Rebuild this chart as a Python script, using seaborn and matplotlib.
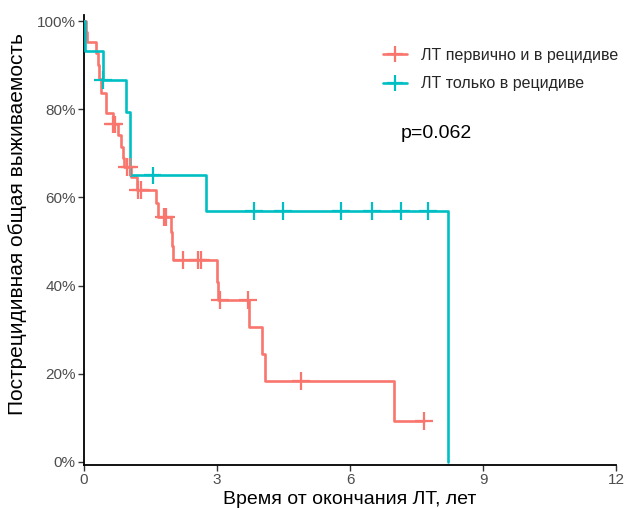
import numpy as np
import pandas as pd
import matplotlib
matplotlib.use('Agg')
import matplotlib.pyplot as plt
from matplotlib.lines import Line2D
import seaborn as sns

# step points of the Kaplan-Meier curves (years, % surviving after the step)
red_times = [0, 0.04, 0.07, 0.28, 0.31, 0.34, 0.38, 0.49, 0.50, 0.65, 0.77, 0.83, 0.88,
             0.90, 1.05, 1.19, 1.62, 1.67, 1.96, 1.99, 2.01, 2.99, 3.02, 3.72, 4.02, 4.08, 6.99]
red_surv = [100, 97.6, 95.2, 92.7, 90.0, 86.8, 83.7, 81.4, 79.1, 76.6, 74.1, 71.4, 68.9,
            66.9, 64.6, 61.7, 58.7, 55.6, 52.2, 49.0, 45.8, 40.8, 36.7, 30.6, 24.5, 18.4, 9.3]
red_censor = [0.66, 0.69, 0.97, 1.03, 1.22, 1.29, 1.80, 1.85, 2.23, 2.57, 2.64, 3.07, 3.70, 4.90, 7.67]

teal_times = [0, 0.02, 0.43, 0.95, 1.04, 2.75, 8.21]
teal_surv = [100, 93.3, 86.7, 79.4, 65.0, 56.9, 0]
teal_censor = [0.43, 1.55, 3.83, 4.49, 5.80, 6.50, 7.15, 7.76]

groups = ['ЛТ первично и в рецидиве', 'ЛТ только в рецидиве']
colors = ['#F8766D', '#00BFC4']
p_text = 'p=0.062'


def level_at(times, surv, t):
    # survival level of the step function at time t
    idx = np.searchsorted(times, t, side='right') - 1
    return np.array(surv)[idx]


lines = []
marks = []
for name, times, surv, cens in [(groups[0], red_times, red_surv, red_censor),
                                (groups[1], teal_times, teal_surv, teal_censor)]:
    t = list(times)
    s = list(surv)
    if max(cens) > t[-1]:
        t.append(max(cens))
        s.append(s[-1])
    lines.append(pd.DataFrame({'time': t, 'surv': s, 'group': name}))
    marks.append(pd.DataFrame({'time': cens, 'surv': level_at(times, surv, cens), 'group': name}))
lines = pd.concat(lines, ignore_index=True)
marks = pd.concat(marks, ignore_index=True)

sns.set_theme(style='white')
plt.rcParams['font.family'] = ['Liberation Sans', 'DejaVu Sans']

fig = plt.figure(figsize=(6.24, 5.08), dpi=100)
ax = fig.add_axes([0.1346, 0.0846, 0.8526, 0.8858])
palette = dict(zip(groups, colors))

for name in groups:
    sub = lines[lines['group'] == name]
    ax.step(sub['time'], sub['surv'], where='post', color=palette[name], lw=1.9, zorder=3)
sns.scatterplot(data=marks, x='time', y='surv', hue='group', palette=palette, marker='+',
                s=160, linewidth=1.6, legend=False, ax=ax, zorder=4)

ax.set_xlim(0, 12)
ax.set_ylim(-0.7, 101.4)
ax.set_xticks([0, 3, 6, 9, 12])
ax.set_yticks([0, 20, 40, 60, 80, 100])
ax.set_yticklabels([f'{v}%' for v in [0, 20, 40, 60, 80, 100]])
ax.tick_params(axis='both', labelsize=11, labelcolor='#4D4D4D', color='#333333',
               length=4, width=1, direction='out', bottom=True, left=True, pad=2)
for side in ['top', 'right']:
    ax.spines[side].set_visible(False)
for side in ['left', 'bottom']:
    ax.spines[side].set_color('black')
    ax.spines[side].set_linewidth(1.3)

ax.set_xlabel('Время от окончания ЛТ, лет', fontsize=14, color='black', labelpad=2.5)
ax.set_ylabel('Пострецидивная общая выживаемость', fontsize=15, color='black')
ax.yaxis.set_label_coords(-0.107, 0.536)

ax.text(7.95, 74.6, p_text, fontsize=14, ha='center', va='center', color='black')

handles = [Line2D([0], [0], color=c, lw=1.9, marker='+', markersize=12, markeredgewidth=1.6)
           for c in colors]
ax.legend(handles, groups, loc='upper left', bbox_to_anchor=(0.562, 0.927), frameon=False,
          fontsize=11.5, handlelength=1.5, handletextpad=0.85, labelspacing=0.85,
          borderaxespad=0, borderpad=0)

fig.savefig('out.png', dpi=100)
